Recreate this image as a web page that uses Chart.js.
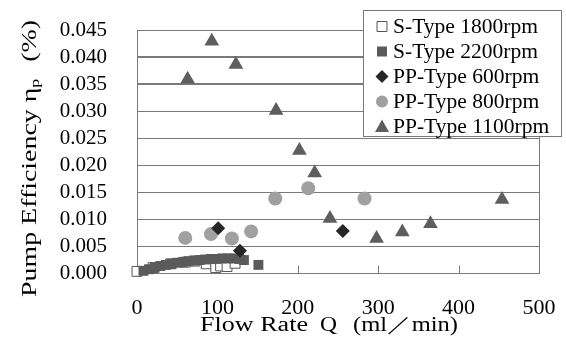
<!DOCTYPE html>
<html>
<head>
<meta charset="utf-8">
<script src="https://cdn.jsdelivr.net/npm/chart.js@4.4.1/dist/chart.umd.min.js"></script>
<style>
  html, body { margin: 0; padding: 0; background: #fff; }
</style>
</head>
<body>
<canvas id="pumpChart" width="566" height="347"></canvas>
<script>
// flow rate Q (ml/min) and pump efficiency for each series
const s1800Flow = [0, 20, 42, 60, 72, 86, 98, 104, 112, 122];
const s1800Eff  = [0.0003, 0.0010, 0.0017, 0.0020, 0.0022, 0.0017, 0.0010, 0.0013, 0.0012, 0.0018];

const s2200Flow = [8, 15, 22, 29, 36, 43, 50, 57, 64, 71, 78, 85, 92, 99, 106, 113, 120, 127, 133, 151];
const s2200Eff  = [0.0004, 0.0007, 0.0010, 0.0013, 0.0015, 0.0017, 0.0019, 0.0020, 0.0022, 0.0023,
                   0.0024, 0.0025, 0.0026, 0.0026, 0.0027, 0.0027, 0.0027, 0.0026, 0.0024, 0.0015];

const pp600Flow = [101, 128, 256];
const pp600Eff  = [0.0083, 0.0041, 0.0078];

const pp800Flow = [60, 92, 118, 142, 172, 213, 283];
const pp800Eff  = [0.0065, 0.0072, 0.0064, 0.0077, 0.0138, 0.0157, 0.0138];

const pp1100Flow = [63, 93, 123, 173, 202, 221, 240, 298, 330, 365, 454];
const pp1100Eff  = [0.0359, 0.0429, 0.0386, 0.0301, 0.0227, 0.0185, 0.0101, 0.0064, 0.0076, 0.0091, 0.0136];

const seriesNames = ['S-Type 1800rpm', 'S-Type 2200rpm', 'PP-Type 600rpm', 'PP-Type 800rpm', 'PP-Type 1100rpm'];
const xTicks = [0, 100, 200, 300, 400, 500];
const yTicks = [0, 0.005, 0.010, 0.015, 0.020, 0.025, 0.030, 0.035, 0.040, 0.045];

const serif = "'Liberation Serif', 'Times New Roman', serif";
const lineGrey = '#7a7a7a';

function toPoints(xs, ys) {
    return xs.map((x, i) => ({ x: x, y: ys[i] }));
}

const styles = [
    { pointStyle: 'rect', radius: 7, bg: '#ffffff', border: '#555555', bw: 1, order: 5 },
    { pointStyle: 'rect', radius: 7, bg: '#5a5a5a', border: '#5a5a5a', bw: 0, order: 4 },
    { pointStyle: 'rectRot', radius: 7, bg: '#262626', border: '#262626', bw: 0, order: 1 },
    { pointStyle: 'circle', radius: 7, bg: '#a0a0a0', border: '#a0a0a0', bw: 0, order: 3 },
    { pointStyle: 'triangle', radius: 8.5, bg: '#5e5e5e', border: '#5e5e5e', bw: 0, order: 2 }
];

const allData = [
    toPoints(s1800Flow, s1800Eff),
    toPoints(s2200Flow, s2200Eff),
    toPoints(pp600Flow, pp600Eff),
    toPoints(pp800Flow, pp800Eff),
    toPoints(pp1100Flow, pp1100Eff)
];

const datasets = seriesNames.map((name, i) => ({
    label: name,
    data: allData[i],
    pointStyle: styles[i].pointStyle,
    pointRadius: styles[i].radius,
    pointHoverRadius: styles[i].radius,
    backgroundColor: styles[i].bg,
    borderColor: styles[i].border,
    borderWidth: styles[i].bw,
    order: styles[i].order,
    clip: false
}));

function fitText(ctx, txt, x, y, width) {
    const w = ctx.measureText(txt).width;
    ctx.save();
    ctx.translate(x, y);
    ctx.scale(width / w, 1);
    ctx.fillText(txt, 0, 0);
    ctx.restore();
}

// grid frame under the markers
const frame = {
    id: 'frame',
    beforeDatasetsDraw(chart) {
        const ctx = chart.ctx;
        const area = chart.chartArea;
        const xs = chart.scales.x;
        const ys = chart.scales.y;
        ctx.save();
        ctx.setLineDash([]);
        ctx.strokeStyle = lineGrey;
        ctx.lineWidth = 1;
        const l = Math.round(area.left) + 0.5;
        const r = Math.round(area.right) + 0.5;
        const b = Math.round(area.bottom) + 0.5;
        ctx.beginPath();
        yTicks.forEach(v => {
            const py = Math.round(ys.getPixelForValue(v)) + 0.5;
            ctx.moveTo(l, py);
            ctx.lineTo(r, py);
        });
        ctx.moveTo(l, Math.round(area.top) + 0.5);
        ctx.lineTo(l, b);
        ctx.moveTo(r, Math.round(area.top) + 0.5);
        ctx.lineTo(r, b);
        xTicks.forEach(v => {
            const px = Math.round(xs.getPixelForValue(v)) + 0.5;
            ctx.moveTo(px, b);
            ctx.lineTo(px, b - 8);
        });
        ctx.stroke();
        ctx.restore();
    }
};

// axis titles and boxed legend
const extras = {
    id: 'extras',
    afterDraw(chart) {
        const ctx = chart.ctx;
        ctx.save();
        ctx.fillStyle = '#000';
        ctx.textBaseline = 'middle';
        ctx.textAlign = 'left';

        // y title with subscript
        ctx.save();
        ctx.translate(31, 158.5);
        ctx.rotate(-Math.PI / 2);
        ctx.font = '20px ' + serif;
        const mainTxt = 'Pump Efficiency η';
        const wMain = ctx.measureText(mainTxt).width;
        ctx.font = '13px ' + serif;
        const wSub = ctx.measureText('p').width;
        ctx.font = '20px ' + serif;
        const wPct = ctx.measureText('(%)').width;
        const gap = 12;
        const total = wMain + wSub + gap + wPct;
        ctx.scale(277 / total, 1);
        let cx = -total / 2;
        ctx.fillText(mainTxt, cx, 0);
        cx += wMain;
        ctx.font = '13px ' + serif;
        ctx.fillText('p', cx, 5);
        cx += wSub + gap;
        ctx.font = '20px ' + serif;
        ctx.fillText('(%)', cx, 0);
        ctx.restore();

        // x title in three pieces
        ctx.font = '20px ' + serif;
        fitText(ctx, 'Flow Rate', 200, 326, 108);
        fitText(ctx, 'Q', 320, 326, 17);
        fitText(ctx, '(ml／min)', 353, 326, 105);

        // legend box
        ctx.fillStyle = '#ffffff';
        ctx.fillRect(363, 10, 199, 127);
        ctx.strokeStyle = lineGrey;
        ctx.lineWidth = 1;
        ctx.strokeRect(363.5, 10.5, 198, 126);
        ctx.font = '20px ' + serif;
        const lsx = 145 / ctx.measureText(seriesNames[0]).width;
        seriesNames.forEach((name, i) => {
            const cy = 26.5 + i * 25;
            const st = styles[i];
            const mx = 382;
            ctx.fillStyle = st.bg;
            ctx.strokeStyle = st.border;
            ctx.beginPath();
            if (st.pointStyle === 'rect') {
                ctx.rect(mx - 5, cy - 5, 10, 10);
            } else if (st.pointStyle === 'rectRot') {
                ctx.moveTo(mx, cy - 6.5);
                ctx.lineTo(mx + 6.5, cy);
                ctx.lineTo(mx, cy + 6.5);
                ctx.lineTo(mx - 6.5, cy);
                ctx.closePath();
            } else if (st.pointStyle === 'circle') {
                ctx.arc(mx, cy, 6, 0, Math.PI * 2);
            } else {
                ctx.moveTo(mx, cy - 7);
                ctx.lineTo(mx + 7, cy + 5.5);
                ctx.lineTo(mx - 7, cy + 5.5);
                ctx.closePath();
            }
            ctx.fill();
            if (st.bw > 0) ctx.stroke();
            ctx.save();
            ctx.fillStyle = '#000';
            ctx.translate(393, cy + 1);
            ctx.scale(lsx, 1);
            ctx.fillText(name, 0, 0);
            ctx.restore();
        });
        ctx.restore();
    }
};

new Chart(document.getElementById('pumpChart').getContext('2d'), {
    type: 'scatter',
    data: { datasets: datasets },
    options: {
        responsive: false,
        animation: false,
        layout: { padding: { left: 0, right: 27, top: 30, bottom: 0 } },
        plugins: {
            legend: { display: false },
            tooltip: { enabled: false }
        },
        scales: {
            x: {
                type: 'linear',
                min: 0,
                max: 500,
                afterFit(scale) {
                    scale.height = 74;
                    scale.paddingLeft = 0;
                    scale.paddingRight = 0;
                },
                ticks: { stepSize: 100, color: '#000', font: { family: serif, size: 22 }, padding: 22, maxRotation: 0 },
                grid: { display: false, drawTicks: false },
                border: { display: true, color: lineGrey, width: 1 }
            },
            y: {
                min: 0,
                max: 0.045,
                afterFit(scale) {
                    scale.width = 137;
                    scale.paddingTop = 0;
                    scale.paddingBottom = 0;
                },
                ticks: {
                    stepSize: 0.005,
                    color: '#000',
                    font: { family: serif, size: 21, lineHeight: 1 },
                    autoSkipPadding: 0,
                    padding: 30,
                    callback: v => v.toFixed(3)
                },
                grid: { color: lineGrey, lineWidth: 1, drawTicks: false },
                border: { display: true, color: lineGrey, width: 1 }
            }
        }
    },
    plugins: [frame, extras]
});
</script>
</body>
</html>
